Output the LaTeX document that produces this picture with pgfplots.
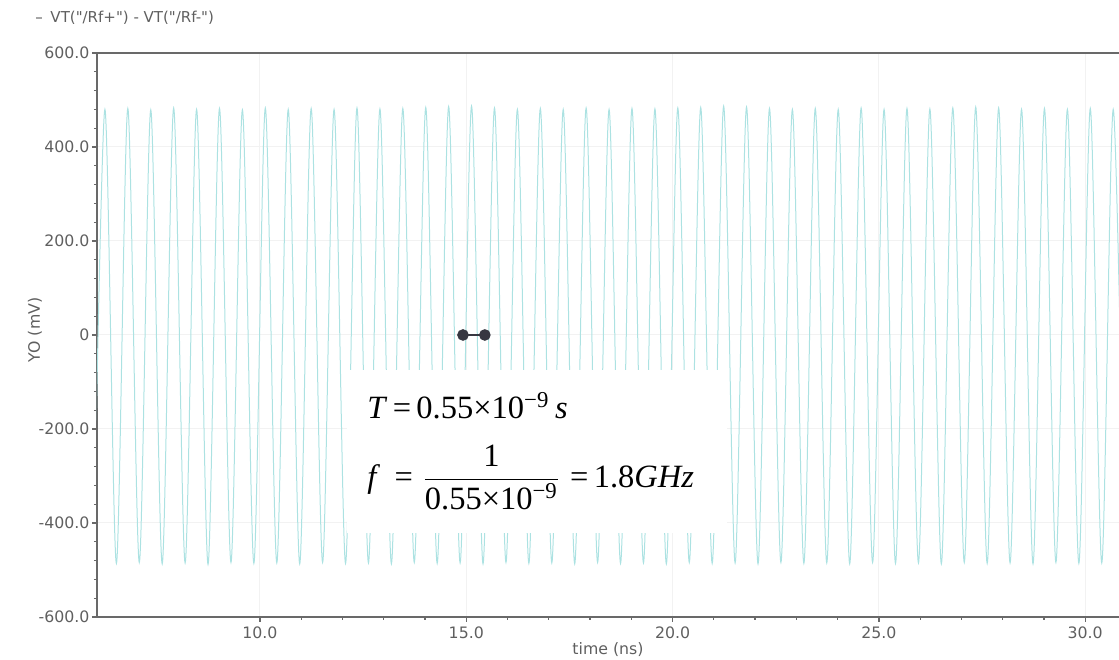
\documentclass[border=0pt]{standalone}
\usepackage{pgfplots}
\pgfplotsset{compat=1.18}
\usepackage{amsmath}
\usepackage{fontspec}
\setmainfont{Liberation Serif}
\newfontfamily\labelfont{DejaVu Sans}
\definecolor{wave}{RGB}{172,226,226}
\definecolor{axisgray}{RGB}{105,105,105}
\definecolor{txtgray}{RGB}{95,95,95}
\definecolor{dotcol}{RGB}{55,55,65}

\begin{document}
\begin{tikzpicture}
\path[use as bounding box] (-38.8pt,-17.2pt) rectangle (408.8pt,246.8pt);
\begin{axis}[
  at={(0,0)}, anchor=south west,
  scale only axis, width=408.8pt, height=225.6pt,
  xmin=6.05, xmax=30.82, ymin=-600, ymax=600,
  axis x line*=box, axis y line*=left,
  xtick pos=left, ytick pos=left,
  axis line style={axisgray, line width=0.6pt},
  tick align=outside, major tick length=2pt, minor tick length=1.2pt,
  tick style={axisgray, line width=0.5pt},
  xtick={10,15,20,25,30}, xticklabels={10.0,15.0,20.0,25.0,30.0},
  ytick={-600,-400,-200,0,200,400,600},
  yticklabels={-600.0,-400.0,-200.0,0,200.0,400.0,600.0},
  minor x tick num=4, minor y tick num=4,
  grid=major, grid style={black!5, line width=0.4pt},
  ticklabel style={font=\labelfont\fontsize{6.3}{7}\selectfont, text=txtgray},
  yticklabel style={xshift=2.5pt},
  xticklabel style={yshift=1.5pt},
  label style={font=\labelfont\fontsize{6.3}{7}\selectfont, text=txtgray},
  xlabel={time (ns)}, ylabel={YO (mV)},
  xlabel style={at={(axis description cs:0.5,-0.0585)}, anchor=center},
  ylabel style={at={(axis description cs:-0.0607,0.509)}, anchor=center},
]
% differential output waveform, one point per peak and trough
\addplot[wave, line width=0.4pt, smooth] coordinates {
(5.965,-485)
(6.242,480)(6.520,-486)(6.797,482)(7.075,-484)(7.353,479)(7.630,-487)
(7.908,483)(8.186,-485)(8.464,480)(8.741,-488)(9.019,482)(9.297,-484)
(9.574,479)(9.852,-486)(10.130,483)(10.408,-485)(10.685,480)(10.963,-487)
(11.241,482)(11.518,-484)(11.796,480)(12.074,-486)(12.351,483)(12.629,-485)
(12.907,481)(13.185,-487)(13.462,482)(13.740,-484)(14.018,484)(14.295,-486)
(14.573,486)(14.851,-485)(15.128,487)(15.406,-487)(15.684,483)(15.962,-484)
(16.239,480)(16.517,-486)(16.795,482)(17.073,-485)(17.350,480)(17.628,-487)
(17.905,483)(18.183,-484)(18.461,480)(18.739,-486)(19.016,482)(19.294,-485)
(19.572,481)(19.849,-487)(20.127,483)(20.405,-484)(20.682,484)(20.960,-486)
(21.238,487)(21.516,-485)(21.793,485)(22.071,-487)(22.349,482)(22.626,-484)
(22.904,480)(23.182,-486)(23.459,482)(23.737,-485)(24.015,480)(24.293,-487)
(24.570,483)(24.848,-484)(25.126,480)(25.403,-486)(25.681,482)(25.959,-485)
(26.236,481)(26.514,-487)(26.792,483)(27.070,-484)(27.347,485)(27.625,-486)
(27.903,483)(28.180,-485)(28.458,480)(28.736,-487)(29.013,482)(29.291,-484)
(29.569,480)(29.847,-486)(30.124,482)(30.402,-485)(30.680,480)(30.957,-486)
};
\fill[white] (axis cs:12.1,-75) rectangle (axis cs:21.33,-421);
\addplot[dotcol, line width=1pt, mark=*, mark size=1.8pt] coordinates {(14.92,0)(15.45,0)};
\node[anchor=base west, inner sep=0, font=\fontsize{13}{15}\selectfont]
  at (axis cs:12.59,-177) {\textit{T}\,=\,0.55×10\textsuperscript{−9}\,\textit{s}};
\node[anchor=west, inner sep=0, font=\fontsize{13}{15}\selectfont]
  at (axis cs:12.59,-304) {\textit{f}\;\,=\;$\dfrac{\text{1}}{\text{0.55×10\textsuperscript{−9}}}$\;=\,1.8\textit{GHz}};
\end{axis}
\draw[black!35, line width=0.5pt] (-24.4pt,239.6pt) -- (-21.8pt,239.6pt);
\node[anchor=west, inner sep=0, font=\labelfont\fontsize{6}{7}\selectfont, text=txtgray]
  at (-18.8pt,239.6pt) {VT("/Rf+") - VT("/Rf-")};
\end{tikzpicture}
\end{document}
